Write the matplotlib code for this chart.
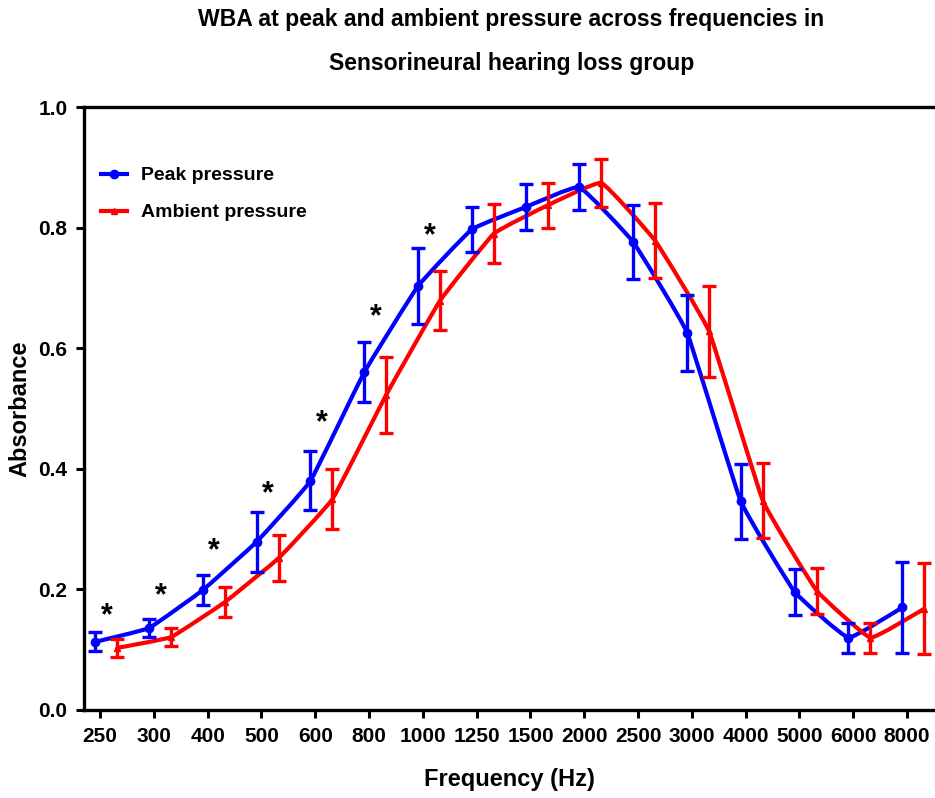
import matplotlib

matplotlib.use("Agg")
import matplotlib.pyplot as plt
import numpy as np
from matplotlib.lines import Line2D
from matplotlib.patches import PathPatch
from matplotlib.path import Path

FREQS = ["250", "300", "400", "500", "600", "800", "1000", "1250",
         "1500", "2000", "2500", "3000", "4000", "5000", "6000", "8000"]

PEAK = [0.113, 0.136, 0.199, 0.279, 0.380, 0.560, 0.703, 0.797,
        0.834, 0.867, 0.776, 0.626, 0.346, 0.196, 0.120, 0.170]
PEAK_ERR = [0.016, 0.015, 0.025, 0.050, 0.049, 0.050, 0.063, 0.038,
            0.038, 0.038, 0.062, 0.063, 0.062, 0.038, 0.025, 0.075]

AMBIENT = [0.103, 0.121, 0.179, 0.252, 0.350, 0.523, 0.679, 0.790,
           0.837, 0.874, 0.778, 0.628, 0.347, 0.198, 0.120, 0.168]
AMBIENT_ERR = [0.015, 0.015, 0.025, 0.038, 0.050, 0.063, 0.049, 0.049,
               0.037, 0.039, 0.062, 0.075, 0.062, 0.038, 0.025, 0.075]

# significant frequencies (index) and where the asterisk sits
STAR_IDX = [0, 1, 2, 3, 4, 5, 6]
STAR_Y = [0.155, 0.188, 0.264, 0.357, 0.475, 0.651, 0.786]

BLUE = "#0000ff"
RED = "#ff0000"
FONT = "Liberation Sans"


def smooth_path(xs, ys, k=0.05):
    # light cubic Bezier smoothing through every point
    pts = np.column_stack([xs, ys])
    ext = np.vstack([pts[0], pts, pts[-1]])
    verts = [pts[0]]
    codes = [Path.MOVETO]
    for i in range(len(pts) - 1):
        p0, p1, p2, p3 = ext[i], ext[i + 1], ext[i + 2], ext[i + 3]
        verts += [p1 + (p2 - p0) * k, p2 - (p3 - p1) * k, p2]
        codes += [Path.CURVE4] * 3
    return Path(verts, codes)


def draw_series(ax, xs, ys, errs, color, marker, ms):
    ax.add_patch(PathPatch(smooth_path(xs, ys), fill=False, edgecolor=color,
                           lw=3.0, capstyle="round", joinstyle="round", zorder=3))
    ax.errorbar(xs, ys, yerr=errs, fmt=marker, color=color, ms=ms, elinewidth=2.4,
                capsize=5, capthick=2.4, zorder=4)


fig = plt.figure(figsize=(9.35, 7.98), dpi=100)
ax = fig.add_axes([0.0898, 0.1103, 0.9102, 0.7556])

x = np.arange(len(FREQS))
draw_series(ax, x - 0.09, PEAK, PEAK_ERR, BLUE, "o", 6)
draw_series(ax, x + 0.32, AMBIENT, AMBIENT_ERR, RED, "^", 5)

for i, sy in zip(STAR_IDX, STAR_Y):
    ax.text(x[i] + 0.12, sy, "*", ha="center", va="center", fontsize=22,
            fontweight="bold", family=FONT)

ax.set_xlim(-0.3, 15.52)
ax.set_ylim(0, 1.0)
ax.set_xticks(x)
ax.set_xticklabels(FREQS)
ax.set_yticks(np.arange(0, 1.01, 0.2))
ax.set_yticklabels([f"{v:.1f}" for v in np.arange(0, 1.01, 0.2)])

for side in ["left", "bottom", "top"]:
    ax.spines[side].set_linewidth(2.4)
ax.spines["right"].set_visible(False)
ax.tick_params(axis="both", direction="out", width=2.2, length=6, labelsize=15, pad=6)
for lab in ax.get_xticklabels() + ax.get_yticklabels():
    lab.set_fontweight("bold")
    lab.set_family(FONT)

ax.set_xlabel("Frequency (Hz)", fontsize=17, fontweight="bold", family=FONT, labelpad=16)
ax.set_ylabel("Absorbance", fontsize=17, fontweight="bold", family=FONT, labelpad=5)

fig.text(0.547, 0.976, "WBA at peak and ambient pressure across frequencies in",
         ha="center", va="center", fontsize=16.6, fontweight="bold", family=FONT)
fig.text(0.547, 0.921, "Sensorineural hearing loss group",
         ha="center", va="center", fontsize=16.6, fontweight="bold", family=FONT)

handles = [
    Line2D([], [], color=BLUE, lw=3, marker="o", ms=6),
    Line2D([], [], color=RED, lw=3, marker="^", ms=5),
]
ax.legend(handles, ["Peak pressure", "Ambient pressure"], loc="upper left",
          bbox_to_anchor=(0.0, 0.93), frameon=False, handlelength=1.3,
          handletextpad=0.75, labelspacing=1.0,
          prop={"family": FONT, "weight": "bold", "size": 14})

fig.savefig("out.png", dpi=100)
